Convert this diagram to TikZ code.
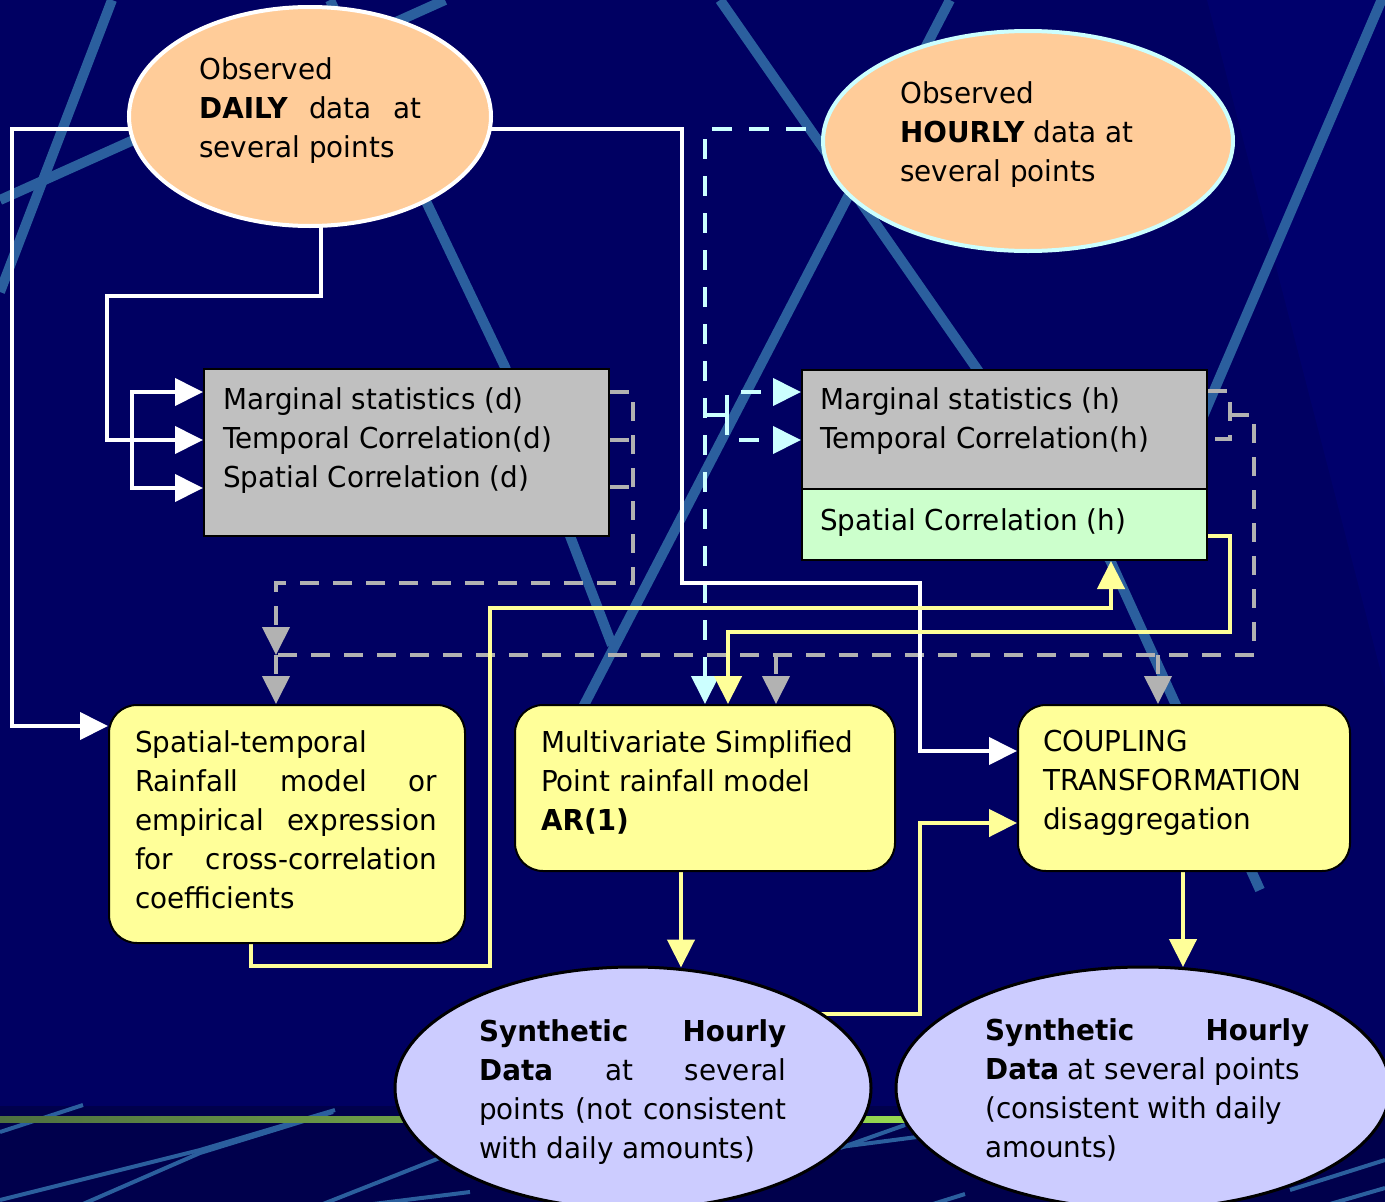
\documentclass[tikz,border=0pt]{standalone}
\usepackage{fontspec}
\setmainfont[FakeStretch=0.965]{DejaVu Sans}
\usetikzlibrary{arrows.meta,shapes.geometric,calc}
\definecolor{bgc}{HTML}{000062}
\definecolor{bglight}{HTML}{00006C}
\definecolor{bgdark}{HTML}{00004C}
\definecolor{stripec}{HTML}{2B5F9E}
\definecolor{peach}{HTML}{FFCC99}
\definecolor{cyanl}{HTML}{CCFFFF}
\definecolor{grayb}{HTML}{C0C0C0}
\definecolor{greenb}{HTML}{CCFFCC}
\definecolor{yel}{HTML}{FFFF99}
\definecolor{lav}{HTML}{CCCCFF}
\definecolor{dgray}{HTML}{B2B2B2}
\definecolor{olive}{HTML}{4E7040}
\definecolor{lgreen}{HTML}{96D850}
\pgfdeclarelayer{bgl}
\pgfdeclarelayer{cl}
\pgfdeclarelayer{gl}
\pgfdeclarelayer{wl}
\pgfdeclarelayer{yl}
\pgfsetlayers{bgl,cl,gl,wl,yl,main}
\tikzset{
  stripe/.style={draw=stripec, line width=10pt},
  thinstripe/.style={draw=stripec, line width=4pt},
  ovalp/.style={ellipse, inner sep=0pt, fill=peach, line width=4pt},
  ovall/.style={ellipse, inner sep=0pt, fill=lav, draw=black, line width=3pt},
  boxg/.style={rectangle, inner sep=0pt, draw=black, line width=2pt, anchor=north west},
  boxy/.style={rectangle, rounded corners=28pt, inner sep=0pt, draw=black, line width=2pt, fill=yel, anchor=north west},
  txt/.style={font=\fontsize{28.8pt}{39pt}\selectfont, align=left, inner sep=0pt, anchor=base west, text=black},
  arr/.style={-{Triangle[length=28pt,width=27pt]}},
  wline/.style={draw=white, line width=4pt},
  yline/.style={draw=yel, line width=4.5pt},
  gline/.style={draw=dgray, line width=4pt, dash pattern=on 19pt off 14pt},
  cline/.style={draw=cyanl, line width=4pt, dash pattern=on 20pt off 17pt}
}
\begin{document}
\begin{tikzpicture}[x=1pt,y=-1pt]
\useasboundingbox (0,0) rectangle (1385,1202);
\begin{pgfonlayer}{bgl}
  \fill[bgc] (0,0) rectangle (1385,1202);
  \fill[bglight] (1207,0) -- (1385,0) -- (1385,688) -- cycle;
  \fill[bgdark] (0,1106) rectangle (1385,1202);
  \draw[stripe] (112,0) -- (0,292);
  \draw[stripe] (0,200) -- (445,0);
  \draw[stripe] (330,0) -- (505,367) -- (612,645);
  \draw[stripe] (950,0) -- (540,790);
  \draw[stripe] (720,0) -- (1110,560) -- (1260,890);
  \draw[stripe] (1385,-8) -- (1180,470);
  \draw[thinstripe] (0,1132) -- (83,1105);
  \draw[thinstripe] (0,1200) -- (200,1150) -- (335,1110);
  \draw[thinstripe] (83,1204) -- (200,1153) -- (333,1112);
  \draw[thinstripe] (323,1204) -- (470,1146);
  \draw[thinstripe] (373,1204) -- (470,1192);
  \draw[thinstripe] (840,1148) -- (905,1125);
  \draw[thinstripe] (840,1147) -- (917,1137);
  \draw[thinstripe] (933,1204) -- (965,1194);
  \draw[thinstripe] (1290,1190) -- (1385,1160);
  \draw[thinstripe] (1330,1204) -- (1385,1188);
  \shade[left color=olive, right color=lgreen] (0,1116) rectangle (905,1122);
\end{pgfonlayer}

% shapes
\node[ovalp, draw=white, minimum width=362pt, minimum height=219pt] (dailyE) at (310,116.5) {};
\node[ovalp, draw=cyanl, minimum width=410pt, minimum height=220pt] (hourE) at (1028,141) {};
\node[boxg, fill=grayb, minimum width=405pt, minimum height=167pt] (grayd) at (203,368) {};
\node[boxg, fill=grayb, minimum width=405pt, minimum height=119pt] (grayh) at (801,369) {};
\node[boxg, fill=greenb, minimum width=405pt, minimum height=71pt] (grn) at (801,488) {};
\node[boxy, minimum width=356pt, minimum height=238pt] (yel1) at (108,704) {};
\node[boxy, minimum width=380pt, minimum height=166pt] (multi) at (514,704) {};
\node[boxy, minimum width=332pt, minimum height=166pt] (coup) at (1017,704) {};
\node[ovall, minimum width=476pt, minimum height=242pt] (ell1) at (633,1088) {};
\node[ovall, minimum width=494pt, minimum height=242pt] (ell2) at (1143,1088) {};

% texts (anchor = baseline of the last line)
\node[txt] (tDaily) at (199,157) {Observed\\\makebox[222pt][s]{\textbf{DAILY} data at}\\several points};
\node[txt] (tHour) at (900,181) {Observed\\\textbf{HOURLY} data at\\several points};
\node[txt] (tGrayd) at (223,487) {Marginal statistics (d)\\Temporal Correlation(d)\\Spatial Correlation (d)};
\node[txt] (tGrayh) at (820,448) {Marginal statistics (h)\\Temporal Correlation(h)};
\node[txt] (tGrn) at (820,530) {Spatial Correlation (h)};
\node[txt] (tYel1) at (135,908) {Spatial-temporal\\\makebox[302pt][s]{Rainfall model or}\\\makebox[302pt][s]{empirical expression}\\\makebox[302pt][s]{for cross-correlation}\\coefficients};
\node[txt] (tMulti) at (541,830) {Multivariate Simplified\\Point rainfall model\\\textbf{AR(1)}};
\node[txt] (tCoup) at (1043,829) {COUPLING\\TRANSFORMATION\\disaggregation};
\node[txt] (tEll1) at (479,1158) {\makebox[307pt][s]{\textbf{Synthetic Hourly}}\\\makebox[307pt][s]{\textbf{Data} at several}\\\makebox[307pt][s]{points (not consistent}\\with daily amounts)};
\node[txt] (tEll2) at (985,1157) {\makebox[324pt][s]{\textbf{Synthetic Hourly}}\\\textbf{Data} at several points\\(consistent with daily\\amounts)};

% cyan dashed connectors
\begin{pgfonlayer}{cl}
  \draw[cline,arr] ($(hourE.center)+(0,-12)$) -| ($(multi.north west)+(191,0)$);
  \coordinate (cj) at (705,415);
  \draw[cline] (cj) -- (727,415);
  \draw[cline,arr] (727,415) |- ($(grayh.north west)+(0,23)$);
  \draw[cline,arr] (727,415) |- ($(grayh.north west)+(0,71)$);
\end{pgfonlayer}

% gray dashed connectors
\begin{pgfonlayer}{gl}
  \draw[gline,arr] ($(grayd.north east)+(0,24)$) -| (633,583) -| (276,655);
  \draw[gline] ($(grayd.north east)+(0,72)$) -- ++(25,0);
  \draw[gline] ($(grayd.north east)+(0,119)$) -- ++(25,0);
  \draw[gline] ($(grayh.north east)+(0,22)$) -| (1230,439) -- ($(grayh.north east)+(0,70)$);
  \draw[gline] (1230,415) -| (1254,655) -- (276,655);
  \draw[gline,arr] (276,655) -- ($(yel1.north west)+(168,0)$);
  \draw[gline,arr] (776,655) -- ($(multi.north west)+(262,0)$);
  \draw[gline,arr] (1158,655) -- ($(coup.north west)+(141,0)$);
\end{pgfonlayer}

% white connectors
\begin{pgfonlayer}{wl}
  \draw[wline,arr] ($(dailyE.center)+(0,12.5)$) -| (12,726) -- ($(yel1.north west)+(0,22)$);
  \draw[wline,arr] ($(dailyE.center)+(11,0)$) |- (107,296) |- ($(grayd.north west)+(0,72)$);
  \draw[wline,arr] (132,440) |- ($(grayd.north west)+(0,24)$);
  \draw[wline,arr] (132,440) |- ($(grayd.north west)+(0,120)$);
  \draw[wline,arr] ($(dailyE.center)+(0,12.5)$) -| (682,583) -| (920,751) -- ($(coup.north west)+(0,47)$);
\end{pgfonlayer}

% yellow connectors
\begin{pgfonlayer}{yl}
  \draw[yline,arr] ($(yel1.south west)+(143,0)$) |- (490,966) |- (1111,608) -- ($(grn.south west)+(310,0)$);
  \draw[yline,arr] ($(grn.north east)+(0,48)$) -| (1230,632) -| ($(multi.north west)+(214,0)$);
  \draw[yline,arr] ($(multi.south west)+(167,0)$) -- ($(ell1.north)+(48,2)$);
  \draw[yline,arr] ($(ell1.center)+(150,-74)$) -| (920,823) -- ($(coup.north west)+(0,119)$);
  \draw[yline,arr] ($(coup.south west)+(166,0)$) -- ($(ell2.north)+(40,1.5)$);
\end{pgfonlayer}
\end{tikzpicture}
\end{document}
